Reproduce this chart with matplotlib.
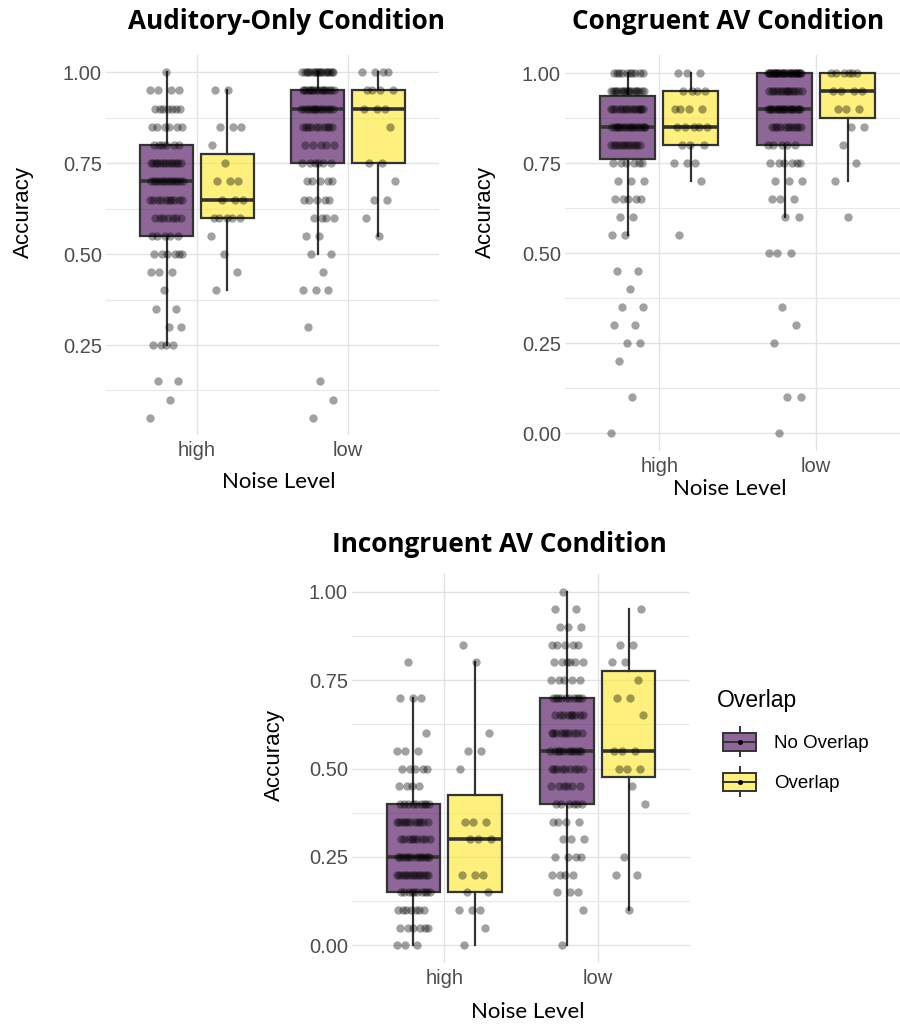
import matplotlib
matplotlib.use("Agg")
import matplotlib.pyplot as plt
import numpy as np
from matplotlib.colors import to_rgba
from matplotlib.patches import Patch, Rectangle
from matplotlib.lines import Line2D
from matplotlib.legend_handler import HandlerBase

# accuracy levels (0.05 steps); every group below is a count per level
LEVELS = [0.00, 0.05, 0.10, 0.15, 0.20, 0.25, 0.30, 0.35, 0.40, 0.45, 0.50,
          0.55, 0.60, 0.65, 0.70, 0.75, 0.80, 0.85, 0.90, 0.95, 1.00]

# Auditory-only
AUD_HIGH_NO = [0, 1, 1, 2, 0, 4, 2, 2, 1, 3, 6, 5, 7, 10, 13, 13, 6, 6, 7, 4, 1]
AUD_HIGH_OV = [0, 0, 0, 0, 0, 0, 0, 0, 1, 1, 1, 1, 5, 3, 3, 1, 1, 3, 0, 2, 0]
AUD_LOW_NO = [0, 1, 1, 1, 0, 0, 1, 0, 3, 1, 2, 2, 4, 5, 5, 6, 5, 10, 14, 16, 18]
AUD_LOW_OV = [0, 0, 0, 0, 0, 0, 0, 0, 0, 0, 0, 1, 1, 2, 1, 2, 0, 1, 3, 4, 4]
# Congruent AV
CON_HIGH_NO = [1, 0, 1, 0, 1, 2, 2, 2, 1, 2, 0, 2, 2, 5, 3, 6, 12, 16, 14, 18, 10]
CON_HIGH_OV = [0, 0, 0, 0, 0, 0, 0, 0, 0, 0, 0, 1, 0, 0, 1, 3, 3, 5, 4, 4, 3]
CON_LOW_NO = [1, 0, 2, 0, 0, 1, 1, 1, 0, 0, 3, 0, 2, 3, 3, 6, 5, 11, 18, 14, 28]
CON_LOW_OV = [0, 0, 0, 0, 0, 0, 0, 0, 0, 0, 0, 0, 1, 0, 1, 1, 1, 2, 3, 4, 6]
# Incongruent AV
INC_HIGH_NO = [3, 6, 7, 10, 13, 12, 9, 11, 9, 4, 5, 3, 1, 0, 3, 0, 1, 0, 0, 0, 0]
INC_HIGH_OV = [1, 1, 3, 2, 3, 0, 3, 3, 0, 0, 1, 2, 1, 0, 0, 0, 1, 1, 0, 0, 0]
INC_LOW_NO = [1, 0, 1, 3, 4, 4, 3, 4, 6, 6, 9, 11, 10, 9, 10, 5, 6, 5, 3, 2, 1]
INC_LOW_OV = [0, 0, 1, 0, 2, 1, 0, 0, 1, 1, 3, 3, 0, 1, 2, 1, 2, 2, 0, 1, 0]

# box summaries, order: high/no, high/ov, low/no, low/ov
AUD_Q1 = [0.55, 0.60, 0.75, 0.75]
AUD_MED = [0.70, 0.65, 0.90, 0.90]
AUD_Q3 = [0.80, 0.775, 0.95, 0.95]
AUD_WLO = [0.25, 0.40, 0.50, 0.55]
AUD_WHI = [1.00, 0.95, 1.00, 1.00]

CON_Q1 = [0.7625, 0.80, 0.80, 0.875]
CON_MED = [0.85, 0.85, 0.90, 0.95]
CON_Q3 = [0.9375, 0.95, 1.00, 1.00]
CON_WLO = [0.55, 0.70, 0.60, 0.70]
CON_WHI = [1.00, 1.00, 1.00, 1.00]

INC_Q1 = [0.15, 0.15, 0.40, 0.475]
INC_MED = [0.25, 0.30, 0.55, 0.55]
INC_Q3 = [0.40, 0.425, 0.70, 0.775]
INC_WLO = [0.00, 0.00, 0.00, 0.10]
INC_WHI = [0.70, 0.80, 1.00, 0.95]

NOISE = ["high", "low"]
GROUPS = ["No Overlap", "Overlap"]
PURPLE = "#440154"
YELLOW = "#FDE725"
EDGE = "#333333"
SANS = ["Liberation Sans", "DejaVu Sans"]

W, H = 900, 1026
fig = plt.figure(figsize=(9, 10.26), dpi=100)


def frac_box(l, r, t, b):
    return [l / W, 1 - b / H, (r - l) / W, (b - t) / H]


def jitter(n, width, phase):
    # deterministic quasi-random spread (golden ratio sequence)
    k = np.arange(n)
    return ((k * 0.6180339887 + phase) % 1.0 - 0.5) * 2 * width


def panel(ax, counts, q1, med, q3, wlo, whi, xlim, ylim, yticks, yminor):
    pos = [0.8, 1.2, 1.8, 2.2]
    cols = [PURPLE, YELLOW, PURPLE, YELLOW]
    stats = [dict(q1=q1[i], med=med[i], q3=q3[i], whislo=wlo[i], whishi=whi[i], fliers=[])
             for i in range(4)]
    bp = ax.bxp(stats, positions=pos, widths=0.35, patch_artist=True,
                showcaps=False, showfliers=False,
                boxprops=dict(edgecolor=EDGE, linewidth=1.6),
                medianprops=dict(color=EDGE, linewidth=2.6),
                whiskerprops=dict(color=EDGE, linewidth=1.6))
    for b, c in zip(bp["boxes"], cols):
        b.set_facecolor(to_rgba(c, 0.6))
        b.set_zorder(2)
    for i, cnt in enumerate(counts):
        vals = np.repeat(LEVELS, cnt)
        xs = pos[i] + jitter(len(vals), 0.11, 0.17 * i)
        ax.scatter(xs, vals, s=36, color="black", alpha=0.37, linewidths=0, zorder=3)
    ax.set_xlim(*xlim)
    ax.set_ylim(*ylim)
    ax.set_xticks([1, 2])
    ax.set_xticklabels(NOISE)
    ax.set_yticks(yticks)
    ax.set_yticklabels([f"{v:.2f}" for v in yticks])
    ax.set_yticks(yminor, minor=True)
    ax.grid(which="major", color="#e3e3e3", linewidth=1.0)
    ax.grid(which="minor", axis="y", color="#e8e8e8", linewidth=0.8)
    ax.set_axisbelow(True)
    ax.tick_params(which="both", length=0)
    ax.tick_params(axis="y", pad=3)
    ax.tick_params(axis="x", pad=4)
    for lab in ax.get_xticklabels() + ax.get_yticklabels():
        lab.set_family(SANS)
        lab.set_fontsize(14.5)
        lab.set_color("#4d4d4d")
    for s in ax.spines.values():
        s.set_visible(False)


ax1 = fig.add_axes(frac_box(106, 439, 55, 435))
panel(ax1, [AUD_HIGH_NO, AUD_HIGH_OV, AUD_LOW_NO, AUD_LOW_OV],
      AUD_Q1, AUD_MED, AUD_Q3, AUD_WLO, AUD_WHI,
      (0.4, 2.6), (0.0025, 1.0475), [0.25, 0.5, 0.75, 1.0], [0.125, 0.375, 0.625, 0.875])

ax2 = fig.add_axes(frac_box(565, 900, 55, 451))
panel(ax2, [CON_HIGH_NO, CON_HIGH_OV, CON_LOW_NO, CON_LOW_OV],
      CON_Q1, CON_MED, CON_Q3, CON_WLO, CON_WHI,
      (0.4, 2.534), (-0.05, 1.05), [0.0, 0.25, 0.5, 0.75, 1.0], [0.125, 0.375, 0.625, 0.875])

ax3 = fig.add_axes(frac_box(352, 690, 574, 963))
panel(ax3, [INC_HIGH_NO, INC_HIGH_OV, INC_LOW_NO, INC_LOW_OV],
      INC_Q1, INC_MED, INC_Q3, INC_WLO, INC_WHI,
      (0.4, 2.6), (-0.05, 1.05), [0.0, 0.25, 0.5, 0.75, 1.0], [0.125, 0.375, 0.625, 0.875])

# titles and axis titles
title_kw = dict(family=["Open Sans", "DejaVu Sans"], fontweight="bold", fontsize=18.8,
                ha="center", va="center")
fig.text(286 / W, 1 - 22 / H, "Auditory-Only Condition", **title_kw)
fig.text(728 / W, 1 - 22 / H, "Congruent AV Condition", **title_kw)
fig.text(499 / W, 1 - 544 / H, "Incongruent AV Condition", **title_kw)

xl_kw = dict(family=["Lato", "DejaVu Sans"], fontsize=16, ha="center", va="center")
fig.text(279 / W, 1 - 482 / H, "Noise Level", **xl_kw)
fig.text(730 / W, 1 - 489 / H, "Noise Level", **xl_kw)
fig.text(528 / W, 1 - 1012 / H, "Noise Level", **xl_kw)

yl_kw = dict(family=SANS, fontsize=16, rotation=90, ha="center", va="center")
fig.text(23 / W, 1 - 212 / H, "Accuracy", **yl_kw)
fig.text(485 / W, 1 - 212 / H, "Accuracy", **yl_kw)
fig.text(274 / W, 1 - 755 / H, "Accuracy", **yl_kw)


class BoxKey(HandlerBase):
    def create_artists(self, legend, orig, xd, yd, w, h, fs, trans):
        x0, y0 = -xd + 0.16 * w, -yd
        bw = 0.84 * w
        fc = orig.get_facecolor()
        cx = x0 + bw / 2
        box = Rectangle((x0, y0), bw, h, facecolor=fc, edgecolor=EDGE, lw=1.4, transform=trans)
        med = Line2D([x0, x0 + bw], [y0 + h / 2] * 2, color=EDGE, lw=1.4, transform=trans)
        w1 = Line2D([cx, cx], [y0 - 0.3 * h, y0], color=EDGE, lw=1.4, transform=trans)
        w2 = Line2D([cx, cx], [y0 + h, y0 + 1.3 * h], color=EDGE, lw=1.4, transform=trans)
        dot = Line2D([cx], [y0 + h / 2], marker="o", ms=2.6, color="black", lw=0, transform=trans)
        return [box, med, w1, w2, dot]


handles = [Patch(facecolor=to_rgba(PURPLE, 0.6)), Patch(facecolor=to_rgba(YELLOW, 0.6))]
leg = fig.legend(handles, GROUPS, handler_map={Patch: BoxKey()}, title="Overlap",
                 loc="upper left", bbox_to_anchor=(700 / W, 1 - 672 / H), frameon=False,
                 prop=dict(family=SANS, size=13.5),
                 title_fontproperties=dict(family=SANS, size=16.5),
                 handlelength=2.1, handleheight=1.1, labelspacing=1.1, handletextpad=0.95,
                 alignment="left")

fig.savefig("out.png", dpi=100)
